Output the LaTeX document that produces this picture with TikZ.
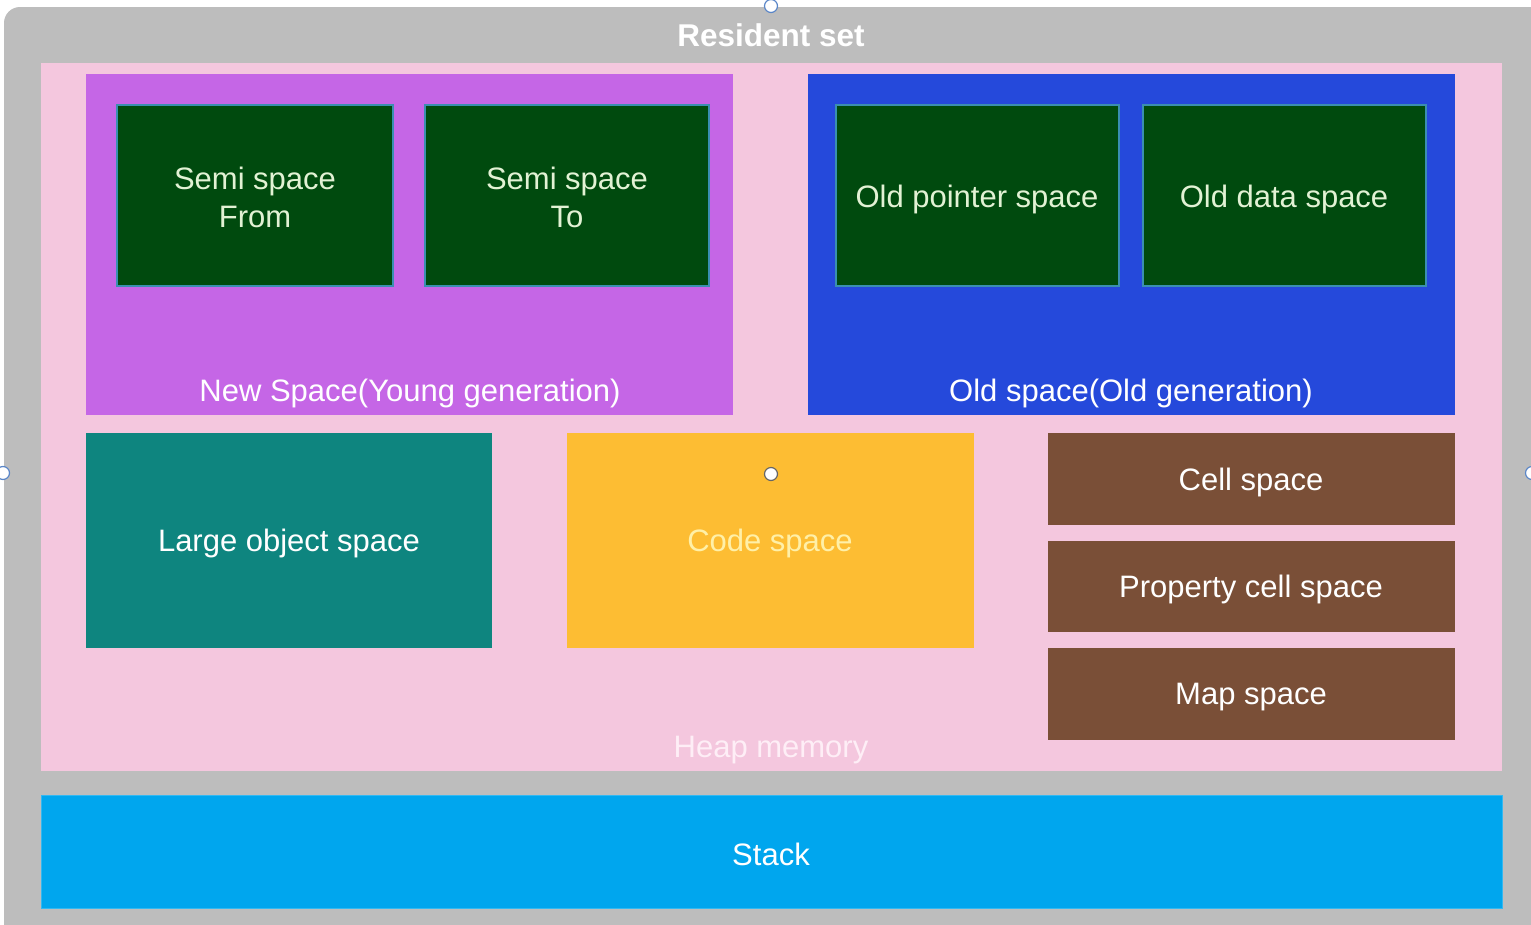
\documentclass[tikz,border=0pt]{standalone}
\usepackage{fontspec}
\setmainfont{Liberation Sans}
\definecolor{rsgray}{HTML}{BDBDBD}
\definecolor{heappink}{HTML}{F4C7DE}
\definecolor{newpurple}{HTML}{C566E6}
\definecolor{oldblue}{HTML}{2549DB}
\definecolor{darkgreen}{HTML}{004A0E}
\definecolor{greenedge}{HTML}{3A8FB0}
\definecolor{teal}{HTML}{0E857F}
\definecolor{codeyellow}{HTML}{FDBD33}
\definecolor{cellbrown}{HTML}{7A4F37}
\definecolor{stackblue}{HTML}{00A6EE}
\definecolor{greentext}{HTML}{E2F2D4}
\definecolor{codetext}{HTML}{FFF0A8}
\definecolor{heaptext}{HTML}{FEEEF6}
\definecolor{handleedge}{HTML}{5A86C8}
\tikzset{
  box/.style={draw=none, inner sep=0pt},
  lbl/.style={text=white, font=\fontsize{31}{38}\selectfont, align=center},
  greenbox/.style={fill=darkgreen, draw=greenedge, line width=1.5pt},
  handle/.style={circle, fill=white, draw=handleedge, line width=1.2pt, minimum size=13pt, inner sep=0pt}
}
\begin{document}
\begin{tikzpicture}[x=1pt,y=-1pt]
\useasboundingbox (0,0) rectangle (1531,924);
\fill[white] (0,0) rectangle (1531,924);
\begin{scope}
\clip (0,0) rectangle (1531,924);
\fill[rsgray, rounded corners=16pt] (4,7) rectangle (1560,960);
\end{scope}
\node[lbl, font=\bfseries\fontsize{31.5}{38}\selectfont] (rs) at (771,35) {Resident set};
% heap
\fill[heappink] (41,63) rectangle (1502,771);
\coordinate (heapc) at (771,750);
\node[lbl, text=heaptext] (heap) at (heapc) {Heap memory};
% new space
\fill[newpurple] (86,74) rectangle (733,415);
\node[lbl] (newl) at (410,393) {New Space(Young generation)};
\draw[greenbox] (117,105) rectangle (393,286);
\node[lbl, text=greentext] (from) at (255,197) {Semi space\\From};
\draw[greenbox] (425,105) rectangle (709,286);
\node[lbl, text=greentext] (to) at (567,197) {Semi space\\To};
% old space
\fill[oldblue] (808,74) rectangle (1455,415);
\node[lbl] (oldl) at (1131,393) {Old space(Old generation)};
\draw[greenbox] (836,105) rectangle (1119,286);
\node[lbl, text=greentext] (optr) at (977,199) {Old pointer space};
\draw[greenbox] (1143,105) rectangle (1426,286);
\node[lbl, text=greentext] (odata) at (1284,199) {Old data space};
% bottom row
\fill[teal] (86,433) rectangle (492,648);
\node[lbl] (large) at (289,543) {Large object space};
\fill[codeyellow] (567,433) rectangle (974,648);
\node[lbl, text=codetext] (code) at (770,543) {Code space};
\fill[cellbrown] (1048,433) rectangle (1455,525);
\node[lbl] (cell) at (1251,482) {Cell space};
\fill[cellbrown] (1048,541) rectangle (1455,632);
\node[lbl] (prop) at (1251,589) {Property cell space};
\fill[cellbrown] (1048,648) rectangle (1455,740);
\node[lbl] (map) at (1251,697) {Map space};
% stack
\draw[fill=stackblue, draw=stackblue!80!white, line width=1pt] (41,795) rectangle (1502,908);
\node[lbl] (stack) at (771,854) {Stack};
% selection handles
\node[handle] (h1) at (771,6) {};
\node[handle] (h2) at (3,473) {};
\node[handle] (h3) at (1532,473) {};
\node[handle, draw=gray!80!black] (h4) at (771,474) {};
\end{tikzpicture}
\end{document}
